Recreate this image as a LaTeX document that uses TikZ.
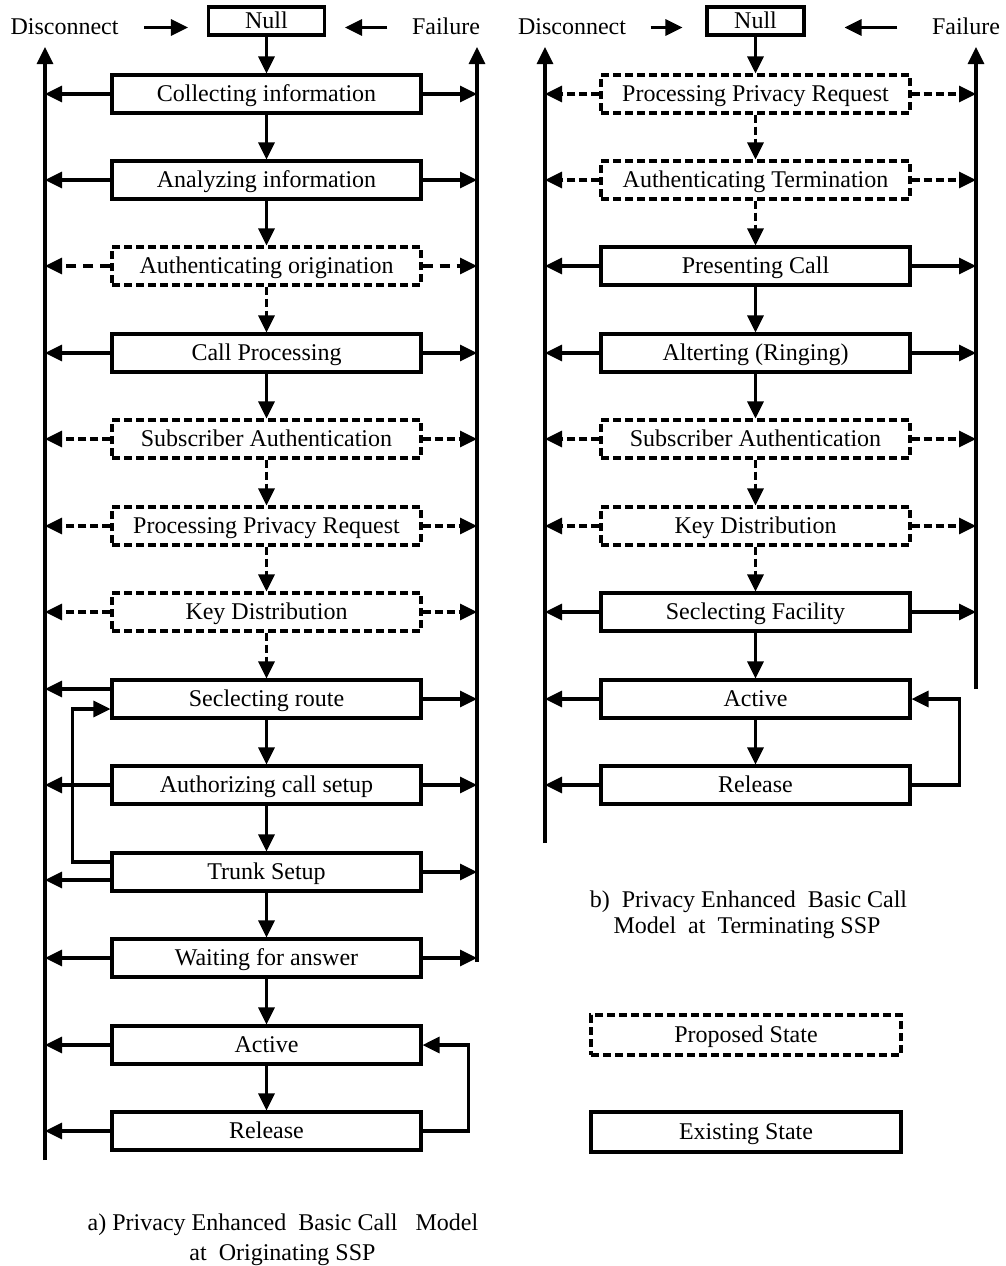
\documentclass[tikz,border=0pt]{standalone}
\usepackage{fontspec}
\setmainfont{Liberation Serif}
\usetikzlibrary{arrows.meta}

\begin{document}
\begin{tikzpicture}[x=1pt,y=-1pt,
  line width=3.1pt,
  font=\fontsize{24}{28}\selectfont,
  flow/.style={-{Triangle[length=17pt,width=16pt]}},
  dflow/.style={flow, dash pattern=on 8pt off 4pt},
  lflow/.style={flow, dash pattern=on 10pt off 7pt},
  state/.style={draw, line width=3.1pt, minimum width=309pt, minimum height=38pt,
    inner sep=0pt, text height=19pt, text depth=3.5pt},
  proposed/.style={state, dash pattern=on 8pt off 4pt},
  nullbox/.style={draw, line width=3.1pt, minimum height=28pt, inner sep=0pt,
    text height=19pt, text depth=3.5pt},
  lbl/.style={inner sep=0pt, text height=17pt, text depth=4pt},
]
\useasboundingbox (0,0) rectangle (1005,1266);

% ---------------- a) originating side ----------------
\node[nullbox, minimum width=116pt] (nA) at (266.5,21) {Null};
\node[lbl] (discA) at (64.5,27.5) {Disconnect};
\node[lbl] (failA) at (446,27.5) {Failure};
\coordinate (dAs) at ([xshift=24pt]discA.east);
\draw[flow] (dAs) -- ([xshift=-19pt]dAs -| nA.west);
\coordinate (fAs) at ([xshift=-23pt]failA.west);
\draw[flow] (fAs) -- ([xshift=19pt]fAs -| nA.east);

\coordinate (aLb) at (45,1160);
\coordinate (aLt) at (45,47);
\coordinate (aRb) at (477,962);
\coordinate (aRt) at (477,47);
\draw[flow] (aLb) -- (aLt);
\draw[flow] (aRb) -- (aRt);

\node[state]    (a1)  at (266.5,94)   {Collecting information};
\node[state]    (a2)  at (266.5,180)  {Analyzing information};
\node[proposed] (a3)  at (266.5,266)  {Authenticating origination};
\node[state]    (a4)  at (266.5,353)  {Call Processing};
\node[proposed] (a5)  at (266.5,439)  {Subscriber Authentication};
\node[proposed] (a6)  at (266.5,526)  {Processing Privacy Request};
\node[proposed] (a7)  at (266.5,612)  {Key Distribution};
\node[state]    (a8)  at (266.5,699)  {Seclecting route};
\node[state]    (a9)  at (266.5,785)  {Authorizing call setup};
\node[state]    (a10) at (266.5,872)  {Trunk Setup};
\node[state]    (a11) at (266.5,958)  {Waiting for answer};
\node[state]    (a12) at (266.5,1045) {Active};
\node[state]    (a13) at (266.5,1131) {Release};

% downward transitions
\draw[flow]  (nA.south)  -- (a1.north);
\draw[flow]  (a1.south)  -- (a2.north);
\draw[flow]  (a2.south)  -- (a3.north);
\draw[dflow] (a3.south)  -- (a4.north);
\draw[flow]  (a4.south)  -- (a5.north);
\draw[dflow] (a5.south)  -- (a6.north);
\draw[dflow] (a6.south)  -- (a7.north);
\draw[dflow] (a7.south)  -- (a8.north);
\draw[flow]  (a8.south)  -- (a9.north);
\draw[flow]  (a9.south)  -- (a10.north);
\draw[flow]  (a10.south) -- (a11.north);
\draw[flow]  (a11.south) -- (a12.north);
\draw[flow]  (a12.south) -- (a13.north);

% exits to Disconnect / Failure
\foreach \n in {a1,a2,a4,a9,a11}{
  \draw[flow] (\n.west) -- (\n.west -| aLt);
  \draw[flow] (\n.east) -- (\n.east -| aRt);
}
\foreach \n in {a5,a6,a7}{
  \draw[dflow] (\n.west) -- (\n.west -| aLt);
  \draw[dflow] (\n.east) -- (\n.east -| aRt);
}
\draw[lflow] (a3.west) -- (a3.west -| aLt);
\draw[lflow] (a3.east) -- (a3.east -| aRt);

\coordinate (r8) at ([yshift=10pt]a8.west);
\draw[flow] (r8) -- (r8 -| aLt);
\draw[flow] (a8.east) -- (a8.east -| aRt);
\coordinate (t10) at ([yshift=-8pt]a10.west);
\draw[flow] (t10) -- (t10 -| aLt);
\draw[flow] (a10.east) -- (a10.east -| aRt);
\draw[flow] (a12.west) -- (a12.west -| aLt);
\draw[flow] (a13.west) -- (a13.west -| aLt);

% retry loop and release loop
\draw[flow] ([yshift=10pt]a10.west) -- ++(-38,0) |- ([yshift=-10pt]a8.west);
\draw[flow] (a13.east) -- ++(46,0) |- (a12.east);

\node[lbl] (capA1) at (283,1224) {a) Privacy Enhanced\ \ Basic Call\ \ \ Model};
\node[lbl] (capA2) at (282.5,1254) {at\ \ Originating SSP};

% ---------------- b) terminating side ----------------
\node[nullbox, minimum width=97pt] (nB) at (755.5,21) {Null};
\node[lbl] (discB) at (572,27.5) {Disconnect};
\node[lbl] (failB) at (966,27.5) {Failure};
\coordinate (dBs) at ([xshift=23pt]discB.east);
\draw[flow] (dBs) -- ([xshift=-23pt]dBs -| nB.west);
\coordinate (fBs) at ([xshift=-33pt]failB.west);
\draw[flow] (fBs) -- ([xshift=39pt]fBs -| nB.east);

\coordinate (bLb) at (545,843);
\coordinate (bLt) at (545,47);
\coordinate (bRb) at (976,689);
\coordinate (bRt) at (976,47);
\draw[flow] (bLb) -- (bLt);
\draw[flow] (bRb) -- (bRt);

\node[proposed] (b1) at (755.5,94)  {Processing Privacy Request};
\node[proposed] (b2) at (755.5,180) {Authenticating Termination};
\node[state]    (b3) at (755.5,266) {Presenting Call};
\node[state]    (b4) at (755.5,353) {Alterting (Ringing)};
\node[proposed] (b5) at (755.5,439) {Subscriber Authentication};
\node[proposed] (b6) at (755.5,526) {Key Distribution};
\node[state]    (b7) at (755.5,612) {Seclecting Facility};
\node[state]    (b8) at (755.5,699) {Active};
\node[state]    (b9) at (755.5,785) {Release};

\draw[flow]  (nB.south) -- (b1.north);
\draw[dflow] (b1.south) -- (b2.north);
\draw[dflow] (b2.south) -- (b3.north);
\draw[flow]  (b3.south) -- (b4.north);
\draw[flow]  (b4.south) -- (b5.north);
\draw[dflow] (b5.south) -- (b6.north);
\draw[dflow] (b6.south) -- (b7.north);
\draw[flow]  (b7.south) -- (b8.north);
\draw[flow]  (b8.south) -- (b9.north);

\foreach \n in {b3,b4,b7}{
  \draw[flow] (\n.west) -- (\n.west -| bLt);
  \draw[flow] (\n.east) -- (\n.east -| bRt);
}
\foreach \n in {b1,b2,b5,b6}{
  \draw[dflow] (\n.west) -- (\n.west -| bLt);
  \draw[dflow] (\n.east) -- (\n.east -| bRt);
}
\draw[flow] (b8.west) -- (b8.west -| bLt);
\draw[flow] (b9.west) -- (b9.west -| bLt);
\draw[flow] (b9.east) -- ++(48,0) |- (b8.east);

\node[lbl] (capB1) at (748.5,900.5) {b)\ \ Privacy Enhanced\ \ Basic Call};
\node[lbl] (capB2) at (747,926.5) {Model\ \ at\ \ Terminating SSP};

% ---------------- legend ----------------
\node[proposed, minimum width=310pt, minimum height=40pt] (legP) at (746,1035) {Proposed State};
\node[state, minimum width=310pt, minimum height=40pt] (legE) at (746,1132) {Existing State};
\end{tikzpicture}
\end{document}
